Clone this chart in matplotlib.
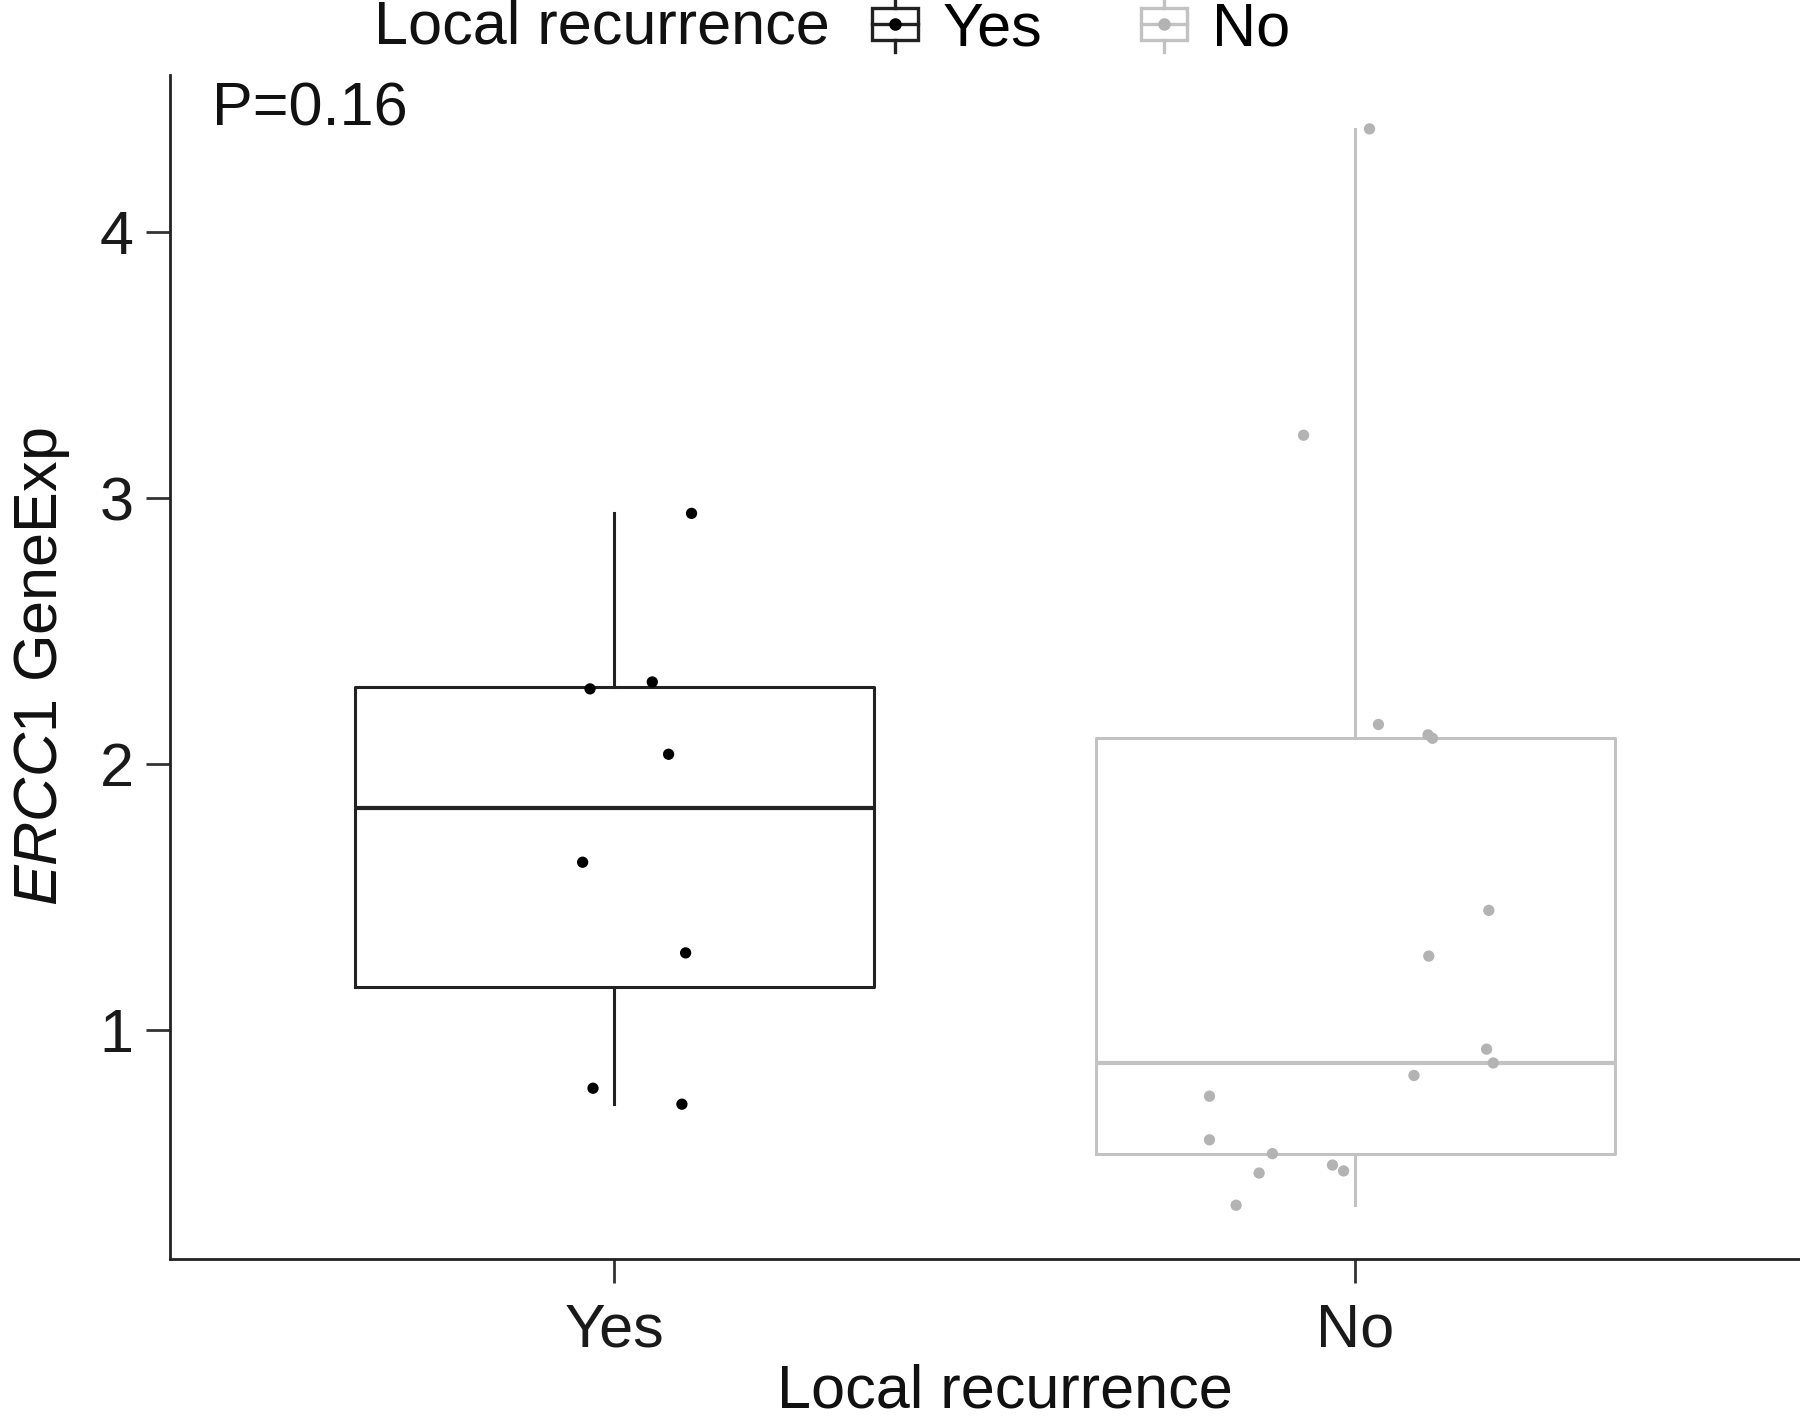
import matplotlib
matplotlib.use("Agg")
import matplotlib.pyplot as plt
import numpy as np
from matplotlib.legend_handler import HandlerBase
from matplotlib.lines import Line2D
from matplotlib.patches import Rectangle


groups = ["Yes", "No"]

# ERCC1 expression per patient
yes_values = [2.943, 2.309, 2.283, 2.037, 1.631, 1.290, 0.781, 0.721]
yes_jitter = [0.104, 0.051, -0.033, 0.073, -0.043, 0.096, -0.029, 0.091]

no_values = [4.389, 3.237, 2.149, 2.110, 2.097, 1.450, 1.278, 0.928, 0.876,
             0.829, 0.751, 0.587, 0.535, 0.492, 0.470, 0.462, 0.341]
no_jitter = [0.019, -0.070, 0.031, 0.098, 0.104, 0.180, 0.099, 0.177, 0.186,
             0.079, -0.197, -0.197, -0.112, -0.031, -0.016, -0.130, -0.161]

point_colors = ["#000000", "#b3b3b3"]
line_colors = ["#222222", "#c2c2c2"]

p_text = "P=0.16"
x_title = "Local recurrence"
legend_title = "Local recurrence"

plt.rcParams["font.family"] = ["Liberation Sans", "DejaVu Sans"]
plt.rcParams["mathtext.fontset"] = "custom"
plt.rcParams["mathtext.rm"] = "Liberation Sans"
plt.rcParams["mathtext.it"] = "Liberation Sans:italic"

FS = 44


class BoxKey(HandlerBase):
    """Small boxplot glyph like the ggplot legend key."""

    def create_artists(self, legend, orig_handle, xdescent, ydescent,
                       width, height, fontsize, trans):
        color = orig_handle.get_color()
        dot = orig_handle.get_markerfacecolor()
        x0, y0 = -xdescent, -ydescent
        cx = x0 + width / 2
        cy = y0 + height / 2
        lw = 2.4
        box = Rectangle((x0, y0 + 0.1 * height), width, 0.8 * height,
                        fill=False, edgecolor=color, lw=lw, transform=trans)
        med = Line2D([x0, x0 + width], [cy, cy], color=color, lw=lw, transform=trans)
        top = Line2D([cx, cx], [y0 + 0.9 * height, y0 + 1.2 * height],
                     color=color, lw=lw, transform=trans)
        bot = Line2D([cx, cx], [y0 - 0.2 * height, y0 + 0.1 * height],
                     color=color, lw=lw, transform=trans)
        pt = Line2D([cx], [cy], marker="o", markersize=8, color=dot,
                    linestyle="none", transform=trans)
        return [box, med, top, bot, pt]


fig = plt.figure(figsize=(18, 14.22), dpi=100)
ax = fig.add_axes([0.0944, 0.1146, 0.9056, 0.8326])

data = [yes_values, no_values]
jitters = [yes_jitter, no_jitter]

for i, (vals, jit) in enumerate(zip(data, jitters)):
    pos = i + 1
    lc = line_colors[i]
    ax.boxplot([vals], positions=[pos], widths=0.7, whis=1.5,
               showfliers=False, showcaps=False, manage_ticks=False,
               boxprops=dict(color=lc, linewidth=2.2),
               whiskerprops=dict(color=lc, linewidth=2.2),
               medianprops=dict(color=lc, linewidth=3.0))
    ax.scatter(pos + np.array(jit), vals, s=66, color=point_colors[i],
               edgecolors="none", zorder=3)

all_vals = np.array(yes_values + no_values)
span = all_vals.max() - all_vals.min()
ax.set_ylim(all_vals.min() - 0.05 * span, all_vals.max() + 0.05 * span)
ax.set_xlim(0.4, 2.6)

ax.set_xticks([1, 2])
ax.set_xticklabels(groups)
ax.set_yticks([1, 2, 3, 4])

for side in ("top", "right"):
    ax.spines[side].set_visible(False)
for side in ("left", "bottom"):
    ax.spines[side].set_linewidth(2.0)
    ax.spines[side].set_color("#222222")

ax.tick_params(axis="both", length=17, width=2.0, color="#333333",
               labelsize=FS, labelcolor="#1a1a1a", pad=9)
ax.tick_params(axis="x", pad=14)

ax.set_xlabel(x_title, fontsize=FS, color="#111111", va="center")
ax.xaxis.set_label_coords(0.512, -0.1125)
ax.set_ylabel(r"$\mathit{ERCC1}$ GeneExp", fontsize=FS, labelpad=20, color="#111111")

ax.text(0.457, 4.46, p_text, fontsize=FS, ha="left", va="center", color="#111111")

# legend across the top
handles = [Line2D([], [], color=line_colors[i], markerfacecolor=point_colors[i])
           for i in range(len(groups))]
fig.text(0.208, 0.980, legend_title, fontsize=FS, ha="left", va="center",
         color="#111111")
fig.legend(handles, groups, loc="center left", bbox_to_anchor=(0.4847, 0.979),
           ncol=2, frameon=False, fontsize=FS, handlelength=0.75,
           handleheight=0.62, handletextpad=0.40, columnspacing=1.62,
           borderpad=0, borderaxespad=0,
           handler_map={Line2D: BoxKey()})

fig.savefig("out.png", dpi=100)
